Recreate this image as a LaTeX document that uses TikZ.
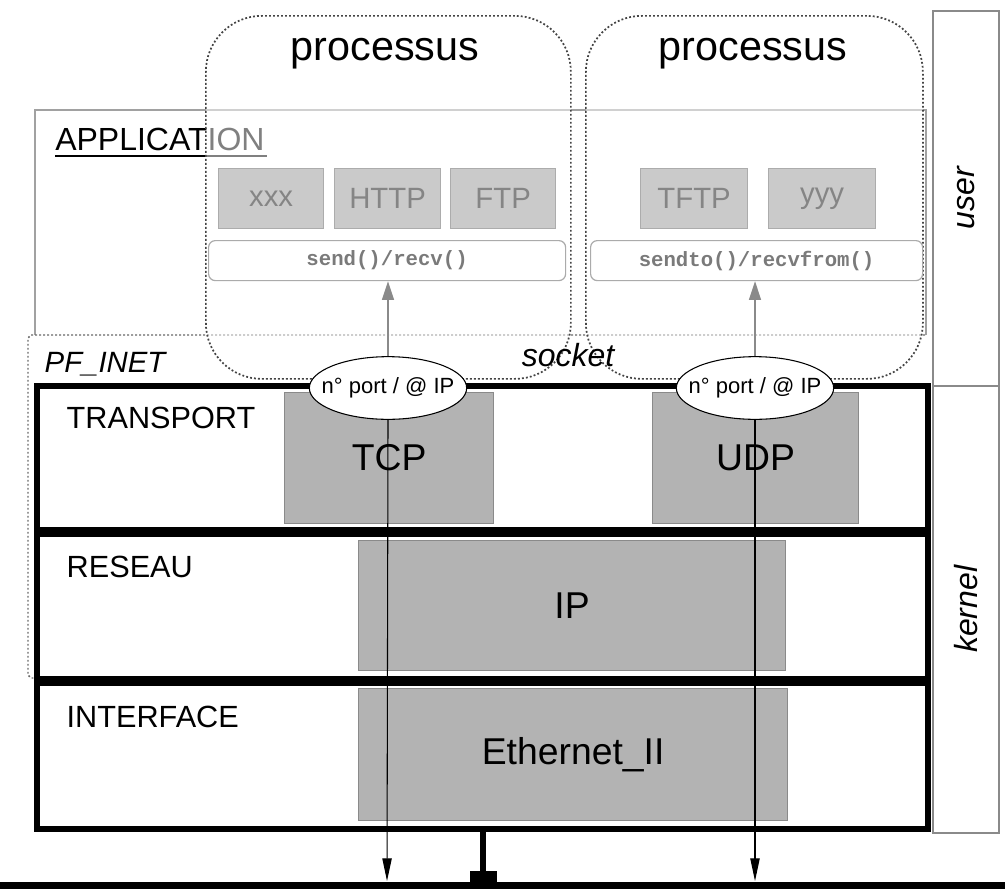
\documentclass[tikz,border=0pt]{standalone}
\usepackage{fontspec}
\setmainfont{Liberation Sans}
\setmonofont{Liberation Mono}
\usetikzlibrary{arrows.meta,shapes.geometric}
\definecolor{boxgray}{HTML}{B3B3B3}
\definecolor{boxline}{HTML}{8A8A8A}
\definecolor{protofill}{HTML}{CACACA}
\definecolor{protoline}{HTML}{ACACAC}
\definecolor{prototext}{HTML}{858585}
\definecolor{apiline}{HTML}{ABABAB}
\definecolor{apitext}{HTML}{7A7A7A}
\definecolor{dotgray}{HTML}{444444}
\begin{document}
\begin{tikzpicture}[x=0.75pt,y=-0.75pt,
  proto/.style={draw=protoline, fill=protofill, line width=0.9pt, text=prototext,
    anchor=north west, inner sep=0pt, minimum height=45pt,
    font=\fontsize{22}{22}\selectfont},
  layerbox/.style={draw=boxline, fill=boxgray, line width=0.9pt, anchor=north west,
    inner sep=0pt, font=\fontsize{28}{28}\selectfont},
  api/.style={draw=apiline, rounded corners=5pt, line width=0.9pt, anchor=north west,
    inner sep=0pt, minimum height=30pt, text=apitext,
    font=\ttfamily\bfseries\fontsize{15.5}{15.5}\selectfont},
  proc/.style={draw=dotgray, dash pattern=on 1.4pt off 1.6pt, line width=1.3pt,
    rounded corners=42pt, fill=white, fill opacity=0.5, anchor=north west,
    inner sep=0pt, minimum height=272.25pt},
  proctitle/.style={anchor=base, font=\fontsize{31}{31}\selectfont},
  layerlabel/.style={anchor=base west, font=\fontsize{23}{23}\selectfont},
  sock/.style={ellipse, draw=black, fill=white, line width=0.8pt, inner xsep=-9pt,
    inner ysep=8pt, minimum width=118pt, minimum height=47pt,
    font=\fontsize{16.5}{16.5}\selectfont},
  side/.style={draw=boxline, line width=1.3pt, anchor=north west, inner sep=0pt,
    minimum width=49.5pt},
  sidetext/.style={rotate=90, font=\itshape\fontsize{24}{24}\selectfont},
  frame/.style={line width=5pt},
  midline/.style={line width=7.5pt},
  uparrow/.style={draw=boxline, line width=1pt, -{Triangle[length=14pt,width=9pt]}},
  downarrow/.style={draw=black, line width=0.8pt, -{Triangle[length=17pt,width=7pt]}},
]
\useasboundingbox (0,0) rectangle (1005,889);

% user / kernel side boxes
\node[side, minimum height=281.25pt] (user) at (932,10) {};
\node[side, minimum height=335.25pt] (kernel) at (932,385) {};
\node[sidetext] at (user.center) {user};
\node[sidetext] at (kernel.center) {kernel};

% application box
\draw[draw=boxline!80, line width=1.1pt] (35,335) -- (35,110) -- (926,110) -- (926,335);
\node[anchor=base west, font=\fontsize{24}{24}\selectfont, inner sep=0pt] (app) at (55,150) {APPLICATION};
\draw[line width=1.6pt] (55,156) -- (267,156);

% PF_INET dotted box
\draw[draw=dotgray!80, dash pattern=on 1.4pt off 1.6pt, line width=1.1pt]
  (925,335) -- (31,335) -- (28,338) -- (28,675) -- (31,678) -- (60,678);
\node[layerlabel, font=\itshape\fontsize{22}{22}\selectfont] (pfinet) at (40,372) {PF\_INET};

% process boxes (semi transparent)
\node[proc, minimum width=273.75pt] (proc1) at (205,15) {};
\node[proc, minimum width=252.75pt] (proc2) at (585,15) {};
\node[proctitle] (t1) at (385,60) {processus};
\node[proctitle] (t2) at (753,60) {processus};

% application protocols
\node[proto, minimum width=78.75pt] (xxx) at (218,168) {xxx};
\node[proto, minimum width=79.5pt] (http) at (334,168) {HTTP};
\node[proto, minimum width=78.75pt] (ftp) at (450,168) {FTP};
\node[proto, minimum width=80.25pt] (tftp) at (640,168) {TFTP};
\node[proto, minimum width=80.25pt] (yyy) at (768,168) {yyy};

% API boxes
\node[api, minimum width=267.75pt] (send) at (208,240) {send()/recv()};
\node[api, minimum width=249pt] (sendto) at (590,240) {sendto()/recvfrom()};

\node[anchor=base, font=\itshape\fontsize{24}{24}\selectfont] (socket) at (568,366) {socket};

% kernel layers
\node[layerbox, minimum width=156.75pt, minimum height=98.25pt] (tcp) at (284,392) {TCP};
\node[layerbox, minimum width=154.5pt, minimum height=98.25pt] (udp) at (652,392) {UDP};
\node[layerbox, minimum width=320.25pt, minimum height=97.5pt] (ip) at (358,540) {IP};
\node[layerbox, minimum width=321.75pt, minimum height=99pt] (eth) at (358,688) {Ethernet\_II};

\draw[frame] (37,386) rectangle (928,829);
\draw[midline] (37,532) -- (928,532);
\draw[midline] (37,681) -- (928,681);

\node[layerlabel] (transport) at (62,428) {TRANSPORT};
\node[layerlabel] (reseau) at (62,577) {RESEAU};
\node[layerlabel] (interface) at (62,727) {INTERFACE};

% bus
\coordinate (stemtop) at (483,829);
\coordinate (stembot) at (483,876);
\draw[line width=5.5pt] (0,885.5) -- (1005,885.5);
\draw[line width=4.5pt] (stemtop) -- (stembot);
\fill (470,871) rectangle (497,884);

% sockets
\node[sock] (s1) at (388,388) {n° port / @ IP};
\node[sock] (s2) at (755,388) {n° port / @ IP};

\draw[uparrow] (s1.north) -- (send.south -| s1.north);
\draw[uparrow] (s2.north) -- (sendto.south -| s2.north);

\coordinate (b1) at (387,881);
\coordinate (b2) at (755,881);
\draw[downarrow] (s1.south) -- (b1);
\draw[downarrow] (s2.south) -- (b2);
\end{tikzpicture}
\end{document}
